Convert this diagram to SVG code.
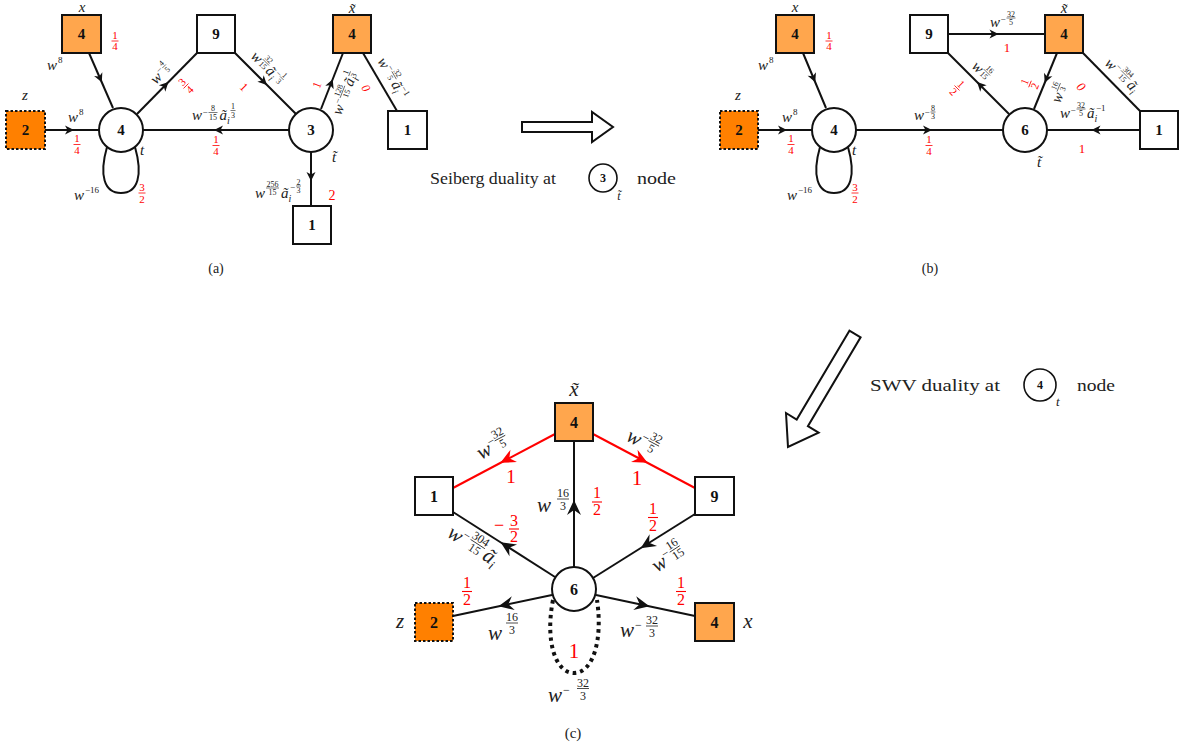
<svg xmlns="http://www.w3.org/2000/svg" width="1183" height="750" viewBox="0 0 1183 750">
<defs>
<style>
text{font-family:"Liberation Serif","DejaVu Serif",serif}
.m{font-style:italic;fill:#222}
.t{fill:#222}
.n{font-weight:bold;font-size:15px;text-anchor:middle;fill:#111}
.f{font-size:8px;text-anchor:middle;fill:#222}
.F{font-size:12px;text-anchor:middle;fill:#222}
.r{font-size:11px;text-anchor:middle;fill:#f00}
.R{font-size:16px;text-anchor:middle;fill:#f00}
.fb{stroke:#222;stroke-width:.6}
.Fb{stroke:#222;stroke-width:.8}
.rb{stroke:#f00;stroke-width:.8}
.Rb{stroke:#f00;stroke-width:1.1}
.box{fill:#fff;stroke:#111;stroke-width:2}
.ob{fill:#ffa64d;stroke:#111;stroke-width:2}
.zb{fill:#ff8000;stroke:#111;stroke-width:2;stroke-dasharray:2.5 2}
.c{fill:#fff;stroke:#111;stroke-width:2}
.e{fill:none;stroke:#111;stroke-width:2}
.ea{marker-mid:url(#ah)}
.eL{marker-mid:url(#ahL)}
.er{fill:none;stroke:#f00;stroke-width:2;marker-mid:url(#ahR)}
.big{fill:#fff;stroke:#111;stroke-width:2}
</style>
<marker id="ah" viewBox="-10 -6 13 12" markerWidth="13" markerHeight="12" refX="0" refY="0" orient="auto" markerUnits="userSpaceOnUse"><path d="M2,0 L-7,-4.5 L-4.5,0 L-7,4.5 Z" fill="#111"/></marker>
<marker id="ahL" viewBox="-16 -9 20 18" markerWidth="20" markerHeight="18" refX="0" refY="0" orient="auto" markerUnits="userSpaceOnUse"><path d="M4,0 L-11,-7 L-6,0 L-11,7 Z" fill="#111"/></marker>
<marker id="ahR" viewBox="-16 -9 20 18" markerWidth="20" markerHeight="18" refX="0" refY="0" orient="auto" markerUnits="userSpaceOnUse"><path d="M4,0 L-11,-7 L-6,0 L-11,7 Z" fill="#f00"/></marker>
</defs>
<rect width="1183" height="750" fill="#fff"/>

<!-- ===== (a) ===== -->
<g id="a-edges">
<path class="e ea" d="M89,53 L101,80.5 L113,108"/>
<path class="e ea" d="M45,130 L72,130 L99,130"/>
<path class="e ea" d="M137,114 L167,83.5 L197,53"/>
<path class="e" d="M107,147 C99,175 104,193 121,193 C138,193 143,175 135,147"/>
<path class="e ea" d="M289,130 L216,130 L143,130"/>
<path class="e ea" d="M235,53 L265.5,83.5 L296,114"/>
<path class="e ea" d="M321,109 L332,81 L343,53"/>
<path class="e" d="M363,53 L397,111"/>
<path class="e ea" d="M311,152 L311,179 L311,206"/>
</g>
<g id="a-x"><rect class="ob" x="62" y="15" width="39" height="38"/><text class="n" x="81.5" y="39">4</text></g>
<g id="a-z"><rect class="zb" x="6" y="111" width="39" height="38"/><text class="n" x="25.5" y="135">2</text></g>
<g id="a-n4"><circle class="c" cx="121" cy="130" r="22"/><text class="n" x="121" y="135">4</text></g>
<g id="a-n9"><rect class="box" x="197" y="15" width="38" height="38"/><text class="n" x="216" y="39">9</text></g>
<g id="a-n3"><circle class="c" cx="311" cy="130" r="22"/><text class="n" x="311" y="135">3</text></g>
<g id="a-xt"><rect class="ob" x="333" y="15" width="38" height="38"/><text class="n" x="352" y="39">4</text></g>
<g id="a-n1r"><rect class="box" x="388" y="111" width="39" height="38"/><text class="n" x="407.5" y="135">1</text></g>
<g id="a-n1b"><rect class="box" x="293" y="206" width="38" height="38"/><text class="n" x="312" y="230">1</text></g>
<g id="a-labels">
<text class="m" x="82" y="12" font-size="15" text-anchor="middle">x</text>
<text class="r" x="115" y="39">1</text><line class="rb" x1="111.5" y1="41" x2="118.5" y2="41"/><text class="r" x="115" y="50">4</text>
<text class="m" x="47" y="70" font-size="15">w</text><text class="t" x="58" y="63" font-size="9">8</text>
<text class="m" x="25" y="100" font-size="15" text-anchor="middle">z</text>
<text class="m" x="68" y="122" font-size="15">w</text><text class="t" x="79" y="115" font-size="9">8</text>
<text class="r" x="77" y="142">1</text><line class="rb" x1="73.5" y1="144.5" x2="80.5" y2="144.5"/><text class="r" x="77" y="153.5">4</text>
<text class="m" x="140" y="155" font-size="15">t</text>
<text class="m" x="74" y="200" font-size="15">w</text><text class="t" x="85" y="193" font-size="9">−16</text>
<text class="r" x="142" y="191">3</text><line class="rb" x1="138.5" y1="193" x2="145.5" y2="193"/><text class="r" x="142" y="202.5">2</text>
<g transform="translate(156,85) rotate(-45)"><text class="m" font-size="15">w</text><text class="t" x="10.5" y="-5.5" font-size="9">−</text><text class="f" x="19" y="-9">4</text><line class="fb" x1="16.5" y1="-7.5" x2="21.5" y2="-7.5"/><text class="f" x="19" y="-0.5">5</text></g>
<g transform="translate(186,86) rotate(-45)"><text class="r" y="-2">3</text><line class="rb" x1="-3.5" y1="0" x2="3.5" y2="0"/><text class="r" y="9">4</text></g>
<g transform="translate(250,57) rotate(45)"><text class="m" font-size="15">w</text><text class="f" x="15" y="-9">32</text><line class="fb" x1="10.5" y1="-7.5" x2="19.5" y2="-7.5"/><text class="f" x="15" y="-0.5">15</text><text class="m" x="21" font-size="15">ã</text><text class="m" x="28.5" y="3.5" font-size="10">i</text><text class="t" x="30" y="-5.5" font-size="9">−</text><text class="f" x="37.5" y="-9">1</text><line class="fb" x1="35" y1="-7.5" x2="40" y2="-7.5"/><text class="f" x="37.5" y="-0.5">3</text></g>
<g transform="translate(244,87) rotate(45)"><text class="r" y="4" style="font-size:12px">1</text></g>
<text class="m" x="192" y="120" font-size="15">w</text><text class="t" x="202.5" y="114.5" font-size="9">−</text><text class="f" x="213" y="111">8</text><line class="fb" x1="208.5" y1="112.5" x2="217.5" y2="112.5"/><text class="f" x="213" y="119.5">15</text><text class="m" x="219.5" y="120" font-size="15">ã</text><text class="m" x="227" y="123.5" font-size="10">i</text><text class="f" x="233" y="109">1</text><line class="fb" x1="230.5" y1="110.5" x2="235.5" y2="110.5"/><text class="f" x="233" y="117.5">3</text>
<text class="r" x="216" y="143">1</text><line class="rb" x1="212.5" y1="145.5" x2="219.5" y2="145.5"/><text class="r" x="216" y="154.5">4</text>
<text class="m" x="352" y="13" font-size="15" text-anchor="middle">x̃</text>
<g transform="translate(341,116) rotate(-68.5)"><text class="m" font-size="15">w</text><text class="t" x="10.5" y="-5.5" font-size="9">−</text><text class="f" x="23" y="-9">128</text><line class="fb" x1="16.5" y1="-7.5" x2="29.5" y2="-7.5"/><text class="f" x="23" y="-0.5">15</text><text class="m" x="31" font-size="15">ã</text><text class="m" x="38.5" y="3.5" font-size="10">i</text><text class="f" x="42.5" y="-9">1</text><line class="fb" x1="40" y1="-7.5" x2="45" y2="-7.5"/><text class="f" x="42.5" y="-0.5">3</text></g>
<g transform="translate(317,85) rotate(-68.5)"><text class="r" y="4" style="font-size:12px">1</text></g>
<g transform="translate(377,61) rotate(59.6)"><text class="m" font-size="15">w</text><text class="t" x="10.5" y="-5.5" font-size="9">−</text><text class="f" x="21" y="-9">32</text><line class="fb" x1="16.5" y1="-7.5" x2="25.5" y2="-7.5"/><text class="f" x="21" y="-0.5">5</text><text class="m" x="27" font-size="15">ã</text><text class="m" x="34.5" y="3.5" font-size="10">i</text><text class="t" x="35.5" y="-6.5" font-size="9">−1</text></g>
<g transform="translate(366,88) rotate(59.6)"><text class="r" y="4" style="font-size:12px;font-style:italic">0</text></g>
<text class="m" x="334" y="162" font-size="15" text-anchor="middle">t̃</text>
<text class="m" x="255" y="198" font-size="15">w</text><text class="f" x="272.5" y="186.5">256</text><line class="fb" x1="266" y1="188" x2="279" y2="188"/><text class="f" x="272.5" y="195">15</text><text class="m" x="281" y="198" font-size="15">ã</text><text class="m" x="288.5" y="201.5" font-size="10">i</text><text class="t" x="290" y="190" font-size="9">−</text><text class="f" x="298.5" y="184.5">2</text><line class="fb" x1="296" y1="186" x2="301" y2="186"/><text class="f" x="298.5" y="193">3</text>
<text class="r" x="332" y="200" style="font-size:14px">2</text>
<text class="t" x="216" y="273" font-size="14" text-anchor="middle">(a)</text>
</g>

<!-- Seiberg arrow -->
<g id="seiberg">
<polygon class="big" points="522,122 592,122 592,112 613,127 592,142 592,132 522,132"/>
<text class="t" x="430" y="184" font-size="16.5" textLength="126" lengthAdjust="spacingAndGlyphs">Seiberg duality at</text>
<circle cx="603" cy="178" r="14" fill="#fff" stroke="#111" stroke-width="1.6"/>
<text class="n" x="603" y="182" style="font-size:12px">3</text>
<text class="m" x="619" y="200" font-size="12" text-anchor="middle">t̃</text>
<text class="t" x="637" y="184" font-size="16.5" textLength="39" lengthAdjust="spacingAndGlyphs">node</text>
</g>

<!-- ===== (b) ===== -->
<g id="b-edges">
<path class="e ea" d="M803,53 L814.5,80.5 L826,108"/>
<path class="e ea" d="M758,130 L785,130 L812,130"/>
<path class="e" d="M820,147 C812,175 817,193 834,193 C851,193 856,175 848,147"/>
<path class="e ea" d="M856,130 L930,130 L1003,130"/>
<path class="e ea" d="M948,34 L996.5,34 L1045,34"/>
<path class="e ea" d="M1009,114 L978.5,83.5 L948,53"/>
<path class="e ea" d="M1057,53 L1045.5,81 L1034,109"/>
<path class="e" d="M1083,53 L1140,111"/>
<path class="e ea" d="M1140,130 L1093.5,130 L1047,130"/>
</g>
<g id="b-x"><rect class="ob" x="776" y="15" width="38" height="38"/><text class="n" x="795" y="39">4</text></g>
<g id="b-z"><rect class="zb" x="720" y="111" width="38" height="38"/><text class="n" x="739" y="135">2</text></g>
<g id="b-n4"><circle class="c" cx="834" cy="130" r="22"/><text class="n" x="834" y="135">4</text></g>
<g id="b-n9"><rect class="box" x="910" y="15" width="38" height="38"/><text class="n" x="929" y="39">9</text></g>
<g id="b-xt"><rect class="ob" x="1045" y="15" width="38" height="38"/><text class="n" x="1064" y="39">4</text></g>
<g id="b-n6"><circle class="c" cx="1025" cy="130" r="22"/><text class="n" x="1025" y="135">6</text></g>
<g id="b-n1"><rect class="box" x="1140" y="111" width="38" height="38"/><text class="n" x="1159" y="135">1</text></g>
<g id="b-labels">
<text class="m" x="795" y="12" font-size="15" text-anchor="middle">x</text>
<text class="r" x="829" y="39">1</text><line class="rb" x1="825.5" y1="41" x2="832.5" y2="41"/><text class="r" x="829" y="50">4</text>
<text class="m" x="758" y="70" font-size="15">w</text><text class="t" x="769" y="63" font-size="9">8</text>
<text class="m" x="738" y="100" font-size="15" text-anchor="middle">z</text>
<text class="m" x="782" y="122" font-size="15">w</text><text class="t" x="793" y="115" font-size="9">8</text>
<text class="r" x="791" y="142">1</text><line class="rb" x1="787.5" y1="144.5" x2="794.5" y2="144.5"/><text class="r" x="791" y="153.5">4</text>
<text class="m" x="852" y="155" font-size="15">t</text>
<text class="m" x="787" y="200" font-size="15">w</text><text class="t" x="798" y="193" font-size="9">−16</text>
<text class="r" x="855" y="191">3</text><line class="rb" x1="851.5" y1="193" x2="858.5" y2="193"/><text class="r" x="855" y="202.5">2</text>
<text class="m" x="914" y="120" font-size="15">w</text><text class="t" x="924.5" y="114.5" font-size="9">−</text><text class="f" x="933" y="110.5">8</text><line class="fb" x1="930.5" y1="112" x2="935.5" y2="112"/><text class="f" x="933" y="119">3</text>
<text class="r" x="929" y="143">1</text><line class="rb" x1="925.5" y1="145.5" x2="932.5" y2="145.5"/><text class="r" x="929" y="154.5">4</text>
<text class="m" x="990" y="27" font-size="15">w</text><text class="t" x="1000.5" y="21.5" font-size="9">−</text><text class="f" x="1011" y="16.5">32</text><line class="fb" x1="1006.5" y1="18" x2="1015.5" y2="18"/><text class="f" x="1011" y="25">5</text>
<text class="r" x="1007" y="52" style="font-size:13px">1</text>
<text class="m" x="1064" y="13" font-size="15" text-anchor="middle">x̃</text>
<g transform="translate(971,67) rotate(45)"><text class="m" font-size="15">w</text><text class="f" x="15" y="-9">16</text><line class="fb" x1="10.5" y1="-7.5" x2="19.5" y2="-7.5"/><text class="f" x="15" y="-0.5">15</text></g>
<g transform="translate(957,88) rotate(45)"><text class="r" y="-2">1</text><line class="rb" x1="-3.5" y1="0" x2="3.5" y2="0"/><text class="r" y="9">2</text></g>
<g transform="translate(1060,104) rotate(-67.7)"><text class="m" font-size="15">w</text><text class="f" x="15" y="-9">16</text><line class="fb" x1="10.5" y1="-7.5" x2="19.5" y2="-7.5"/><text class="f" x="15" y="-0.5">3</text></g>
<g transform="translate(1030,84) rotate(-67.7)"><text class="r" y="-2">1</text><line class="rb" x1="-3.5" y1="0" x2="3.5" y2="0"/><text class="r" y="9">2</text></g>
<g transform="translate(1081,87) rotate(45)"><text class="r" y="4" style="font-size:13px;font-style:italic">0</text></g>
<g transform="translate(1104,64) rotate(45)"><text class="m" font-size="15">w</text><text class="t" x="10.5" y="-5.5" font-size="9">−</text><text class="f" x="23" y="-9">304</text><line class="fb" x1="16.5" y1="-7.5" x2="29.5" y2="-7.5"/><text class="f" x="23" y="-0.5">15</text><text class="m" x="31" font-size="15">ã</text><text class="m" x="38.5" y="3.5" font-size="10">i</text></g>
<text class="m" x="1060" y="118" font-size="15">w</text><text class="t" x="1070.5" y="112.5" font-size="9">−</text><text class="f" x="1081" y="107.5">32</text><line class="fb" x1="1076.5" y1="109" x2="1085.5" y2="109"/><text class="f" x="1081" y="116">5</text><text class="m" x="1087" y="118" font-size="15">ã</text><text class="m" x="1094.5" y="121.5" font-size="10">i</text><text class="t" x="1096" y="111" font-size="9">−1</text>
<text class="r" x="1082" y="153" style="font-size:13px">1</text>
<text class="m" x="1039" y="167" font-size="15" text-anchor="middle">t̃</text>
<text class="t" x="930" y="273" font-size="14" text-anchor="middle">(b)</text>
</g>

<!-- SWV arrow -->
<g id="swv">
<polygon class="big" points="849.4,330.7 796.7,419.6 786,413 788,447 818.6,432.6 807.9,426.2 860.6,337.3"/>
<text class="t" x="870" y="391" font-size="16.5" textLength="130" lengthAdjust="spacingAndGlyphs">SWV duality at</text>
<circle cx="1040" cy="385" r="16" fill="#fff" stroke="#111" stroke-width="1.6"/>
<text class="n" x="1040" y="389" style="font-size:12px">4</text>
<text class="m" x="1056" y="406" font-size="13">t</text>
<text class="t" x="1077" y="391" font-size="16.5" textLength="38" lengthAdjust="spacingAndGlyphs">node</text>
</g>

<!-- ===== (c) ===== -->
<g id="c-edges">
<path class="er" d="M555,434 L504,461 L453,488"/>
<path class="er" d="M593,434 L644,461 L695,488"/>
<path class="e eL" d="M574,567 L574,504 L574,441"/>
<path class="e eL" d="M695,514 L644,546 L593,578"/>
<path class="e eL" d="M555,577 L504,544.5 L453,512"/>
<path class="e eL" d="M552,595 L502.5,605.5 L453,616"/>
<path class="e eL" d="M596,595 L645.5,605.5 L695,616"/>
<path d="M553,600 C545,640 555,673 574,673 C593,673 603,640 597,600" fill="none" stroke="#111" stroke-width="4" stroke-dasharray="3.5 4"/>
</g>
<g id="c-xt"><rect class="ob" x="555" y="403" width="38" height="38"/><text class="n" x="574" y="428" style="font-size:16px">4</text></g>
<g id="c-n1"><rect class="box" x="415" y="477" width="38" height="38"/><text class="n" x="434" y="502" style="font-size:16px">1</text></g>
<g id="c-n9"><rect class="box" x="695" y="477" width="39" height="38"/><text class="n" x="714.5" y="502" style="font-size:16px">9</text></g>
<g id="c-n6"><circle class="c" cx="574" cy="589" r="22"/><text class="n" x="574" y="595" style="font-size:16px">6</text></g>
<g id="c-z"><rect class="zb" x="415" y="603" width="38" height="38"/><text class="n" x="434" y="628" style="font-size:16px">2</text></g>
<g id="c-x"><rect class="ob" x="695" y="603" width="39" height="38"/><text class="n" x="714.5" y="628" style="font-size:16px">4</text></g>
<g id="c-labels">
<text class="m" x="574" y="396" font-size="21" text-anchor="middle">x̃</text>
<g transform="translate(481,460) rotate(-27.9)"><text class="m" font-size="21">w</text><text class="t" x="14" y="-8" font-size="12">−</text><text class="F" x="27" y="-12.5">32</text><line class="Fb" x1="21" y1="-10.5" x2="33" y2="-10.5"/><text class="F" x="27" y="-0.5">5</text></g>
<text class="R" x="511" y="483" style="font-size:19px">1</text>
<g transform="translate(625,440) rotate(27.9)"><text class="m" font-size="21">w</text><text class="t" x="14" y="-8" font-size="12">−</text><text class="F" x="27" y="-12.5">32</text><line class="Fb" x1="21" y1="-10.5" x2="33" y2="-10.5"/><text class="F" x="27" y="-0.5">5</text></g>
<text class="R" x="637" y="485" style="font-size:21px">1</text>
<text class="m" x="537" y="512" font-size="21">w</text><text class="F" x="563" y="497">16</text><line class="Fb" x1="557" y1="499" x2="569" y2="499"/><text class="F" x="563" y="510">3</text>
<text class="R" x="597" y="498">1</text><line class="Rb" x1="592" y1="502" x2="602" y2="502"/><text class="R" x="597" y="515">2</text>
<text class="R" x="653" y="514">1</text><line class="Rb" x1="648" y1="517.5" x2="658" y2="517.5"/><text class="R" x="653" y="531">2</text>
<g transform="translate(657,573) rotate(-33)"><text class="m" font-size="21">w</text><text class="t" x="14" y="-8" font-size="12">−</text><text class="F" x="28" y="-12.5">16</text><line class="Fb" x1="22" y1="-10.5" x2="34" y2="-10.5"/><text class="F" x="28" y="-0.5">15</text></g>
<text class="R" x="499" y="531" style="font-size:18px">−</text><text class="R" x="514" y="526">3</text><line class="Rb" x1="509" y1="529" x2="519" y2="529"/><text class="R" x="514" y="542">2</text>
<g transform="translate(446,536) rotate(33)"><text class="m" font-size="21">w</text><text class="t" x="14" y="-8" font-size="12">−</text><text class="F" x="31" y="-12.5">304</text><line class="Fb" x1="22.5" y1="-10.5" x2="39.5" y2="-10.5"/><text class="F" x="31" y="-0.5">15</text><text class="m" x="42" font-size="21">ã</text><text class="m" x="52.5" y="4" font-size="13">i</text></g>
<text class="R" x="467" y="588">1</text><line class="Rb" x1="462" y1="591.5" x2="472" y2="591.5"/><text class="R" x="467" y="605">2</text>
<text class="R" x="681" y="588">1</text><line class="Rb" x1="676" y1="591.5" x2="686" y2="591.5"/><text class="R" x="681" y="605">2</text>
<text class="m" x="488" y="640" font-size="21">w</text><text class="F" x="512" y="621">16</text><line class="Fb" x1="506" y1="623" x2="518" y2="623"/><text class="F" x="512" y="634">3</text>
<text class="m" x="620" y="637" font-size="21">w</text><text class="t" x="635" y="629" font-size="12">−</text><text class="F" x="652" y="624">32</text><line class="Fb" x1="646" y1="626" x2="658" y2="626"/><text class="F" x="652" y="637">3</text>
<text class="m" x="400" y="628" font-size="21" text-anchor="middle">z</text>
<text class="m" x="748" y="628" font-size="21" text-anchor="middle">x</text>
<text class="R" x="574" y="658" style="font-size:21px">1</text>
<text class="m" x="548" y="702" font-size="21">w</text><text class="t" x="563" y="694" font-size="12">−</text><text class="F" x="583" y="686.5">32</text><line class="Fb" x1="577" y1="688.5" x2="589" y2="688.5"/><text class="F" x="583" y="699.5">3</text>
<text class="t" x="573" y="738" font-size="15" text-anchor="middle">(c)</text>
</g>
</svg>
